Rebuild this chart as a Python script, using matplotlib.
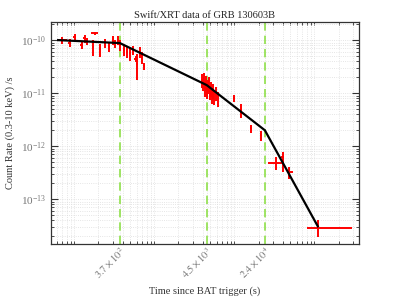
import numpy as np
import matplotlib
matplotlib.use('Agg')
import matplotlib.pyplot as plt
import matplotlib.transforms as mtransforms
from matplotlib.ticker import LogLocator, NullFormatter

plt.rcParams['font.family'] = ['Liberation Serif', 'DejaVu Serif']
plt.rcParams['mathtext.fontset'] = 'stix'

# early data (WT/PC), rates in counts/s
t_early = [71, 88, 101, 123, 135, 145, 169, 180, 212, 240, 270, 300,
           321, 353, 370, 415, 457, 493, 538, 587, 609, 658, 692, 745]
dt_early = [9, 4, 4, 5, 5, 5, 5, 20, 6, 6, 7, 8,
            8, 9, 9, 10, 10, 12, 12, 30, 12, 14, 14, 15]
rate_early = [10.0, 8.9, 11.5, 8.05, 10.8, 9.7, 7.5, 13.4, 6.7, 8.7, 7.5, 10.0,
              8.7, 10.0, 8.05, 6.5, 6.0, 5.6, 6.5, 4.5, 3.6, 6.0, 4.8, 3.2]
drate_early = [1.5, 1.5, 1.8, 1.3, 1.8, 1.5, 2.5, 1.0, 1.8, 1.7, 1.6, 1.8,
               1.5, 2.0, 1.8, 1.5, 1.3, 1.5, 1.3, 0.6, 1.8, 1.4, 1.3, 0.5]

# cluster around 4.5e3 s
t_mid = [3922, 4036, 4155, 4276, 4402, 4531, 4664, 4801, 4942, 5086,
         5235, 5389, 5547, 5877, 6227]
rate_mid = [17.6, 14.8, 19.2, 12.4, 16.1, 11.4, 13.6, 15.5, 10.4, 12.4,
            9.2, 11.4, 8.4, 10.0, 8.1]
drate_mid = [5, 4, 5, 4, 5, 3.5, 4, 5, 3, 4, 3, 3.5, 2.5, 3, 2.5]

# later points
t_late = [9770, 12050, 16070, 21430]
dt_late = [300, 300, 400, 500]
rate_late = [8.0e-12, 4.8e-12, 2.16e-12, 1.61e-12]
drate_late = [1.3e-12, 1.4e-12, 0.4e-12, 0.35e-12]

# final points (asymmetric errors)
t_end = [33000, 40000, 48400, 109700]
t_end_lo = [6800, 1500, 3500, 29900]
t_end_hi = [8600, 1500, 4900, 182000]
rate_end = [4.8e-13, 6.2e-13, 3.3e-13, 2.9e-14]
rate_end_lo = [1.3e-13, 3.0e-13, 0.85e-13, 0.95e-14]
rate_end_hi = [1.4e-13, 1.5e-13, 0.8e-13, 1.1e-14]

# broken power-law model
t_model = [62.7, 370, 4500, 24000, 1.1e5]
rate_model = [1.0e-10, 8.8e-11, 1.42e-11, 2.0e-12, 3.1e-14]

breaks = [370, 4500, 24000]
break_labels = [r'$3.7\times10^{2}$', r'$4.5\times10^{3}$', r'$2.4\times10^{4}$']
y_ticks = [1e-13, 1e-12, 1e-11, 1e-10]

fig = plt.figure(figsize=(3.97, 2.98), dpi=100)
ax = fig.add_axes([0.128, 0.182, 0.776, 0.744])

ekw = dict(fmt='none', ecolor='red', elinewidth=1.4, capsize=0, zorder=3)
ax.errorbar(t_early, np.array(rate_early) * 1e-11, xerr=dt_early,
            yerr=np.array(drate_early) * 1e-11, **ekw)
ax.errorbar(t_mid, np.array(rate_mid) * 1e-12, xerr=60,
            yerr=np.array(drate_mid) * 1e-12, **ekw)
ax.errorbar(t_late, rate_late, xerr=dt_late, yerr=drate_late, **ekw)
ax.errorbar(t_end, rate_end, xerr=[t_end_lo, t_end_hi],
            yerr=[rate_end_lo, rate_end_hi], **ekw)

ax.plot(t_model, rate_model, color='black', lw=1.6, zorder=4)

for b in breaks:
    ax.axvline(b, color='#8fe04a', ls=(0, (5, 3)), lw=1.2, zorder=2)

ax.set_xscale('log')
ax.set_yscale('log')
ax.set_xlim(50.8, 3.59e5)
ax.set_ylim(1.45e-14, 2.19e-10)

ax.set_xticks(breaks)
ax.set_xticklabels(break_labels, rotation=45, ha='right', rotation_mode='anchor')
shift = mtransforms.ScaledTranslation(0.09, 0, fig.dpi_scale_trans)
for lab in ax.get_xticklabels():
    lab.set_transform(lab.get_transform() + shift)
ax.xaxis.set_minor_locator(LogLocator(base=10, subs=np.arange(1, 10), numticks=20))
ax.xaxis.set_minor_formatter(NullFormatter())
ax.set_yticks(y_ticks)
ax.yaxis.set_minor_locator(LogLocator(base=10, subs=np.arange(2, 10), numticks=20))
ax.yaxis.set_minor_formatter(NullFormatter())

ax.tick_params(which='both', direction='in', top=True, right=True,
               labelsize=8, labelcolor='#777777', color='#333333')
ax.tick_params(which='major', length=5, width=0.8)
ax.tick_params(which='minor', length=2.5, width=0.6)
ax.tick_params(axis='x', which='major', length=0, pad=1, labelsize=7.5)

ax.grid(which='both', color='#dddddd', ls=':', lw=0.6)
ax.set_axisbelow(True)
for s in ax.spines.values():
    s.set_color('#333333')
    s.set_linewidth(0.9)

ax.set_title('Swift/XRT data of GRB 130603B', fontsize=7.5, pad=3, color='#222222')
ax.set_xlabel('Time since BAT trigger (s)', fontsize=7.5, color='#333333')
ax.xaxis.set_label_coords(0.5, -0.213)
ax.xaxis.label.set_va('center')
ax.set_ylabel('Count Rate (0.3-10 keV) /s', fontsize=7.5, color='#333333')
ax.yaxis.set_label_coords(-0.115, 0.5)

fig.savefig('out.png', dpi=100)
